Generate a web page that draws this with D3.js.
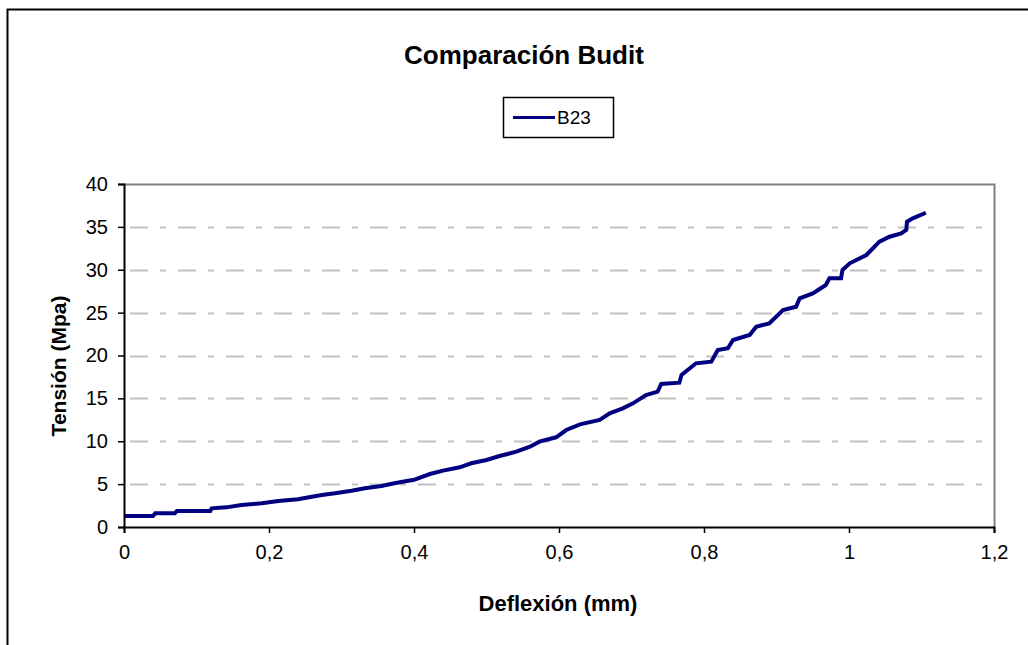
<!DOCTYPE html>
<html>
<head>
<meta charset="utf-8">
<style>
  body { margin: 0; background: #fff; }
  svg text { font-family: "Liberation Sans", Arial, sans-serif; fill: #000; }
</style>
</head>
<body>
<div class="chart"></div>
<script src="https://cdn.jsdelivr.net/npm/d3@7/dist/d3.min.js"></script>
<script type="text/javascript">

// data (deflexion mm, tension MPa)
var seriesName = "B23";
var deflexion = [0.0, 0.040, 0.043, 0.070, 0.073, 0.119, 0.121, 0.141, 0.162, 0.190, 0.213, 0.240,
    0.259, 0.273, 0.291, 0.314, 0.332, 0.355, 0.373, 0.392, 0.399, 0.422, 0.440, 0.463, 0.479,
    0.500, 0.518, 0.541, 0.560, 0.573, 0.596, 0.610, 0.629, 0.656, 0.670, 0.688, 0.702, 0.720,
    0.736, 0.741, 0.766, 0.769, 0.789, 0.810, 0.819, 0.833, 0.840, 0.863, 0.872, 0.890, 0.909,
    0.927, 0.932, 0.950, 0.968, 0.973, 0.989, 0.991, 1.001, 1.024, 1.042, 1.056, 1.072, 1.079,
    1.080, 1.088, 1.106];
var tension = [1.28, 1.28, 1.59, 1.59, 1.87, 1.87, 2.18, 2.29, 2.57, 2.76, 3.03, 3.23,
    3.53, 3.73, 3.93, 4.23, 4.51, 4.78, 5.10, 5.40, 5.48, 6.18, 6.57, 6.96, 7.43,
    7.81, 8.28, 8.78, 9.37, 9.95, 10.46, 11.31, 11.97, 12.48, 13.26, 13.84, 14.42, 15.39,
    15.78, 16.68, 16.83, 17.73, 19.09, 19.28, 20.64, 20.84, 21.81, 22.39, 23.36, 23.75, 25.31,
    25.69, 26.67, 27.25, 28.22, 29.00, 29.00, 29.97, 30.75, 31.72, 33.27, 33.85, 34.25, 34.64,
    35.61, 36.0, 36.65];
var xTicks = [0, 0.2, 0.4, 0.6, 0.8, 1, 1.2];
var yTicks = [0, 5, 10, 15, 20, 25, 30, 35, 40];

var W = 1028, H = 645;
var margin = {top: 184, right: 34, bottom: 118, left: 124},
    width = W - margin.left - margin.right,
    height = H - margin.top - margin.bottom;

var data = deflexion.map(function(d, i) { return {x: d, y: tension[i]}; });

var svg = d3.select(".chart").append("svg")
    .attr("width", W)
    .attr("height", H);

// outer chart frame
svg.append("rect")
    .attr("x", 7.5).attr("y", 9.5)
    .attr("width", W + 10).attr("height", H + 10)
    .attr("fill", "#fff").attr("stroke", "#000").attr("stroke-width", 2);

svg.append("text")
    .attr("x", 524).attr("y", 64)
    .attr("text-anchor", "middle")
    .style("font-size", "26px").style("font-weight", "bold")
    .text("Comparación Budit");

// legend
var lg = svg.append("g").attr("transform", "translate(503,97)");
lg.append("rect").attr("x", 0.5).attr("y", 0.5).attr("width", 110).attr("height", 40)
    .attr("fill", "#fff").attr("stroke", "#000").attr("stroke-width", 1.5);
lg.append("line").attr("x1", 10).attr("x2", 52).attr("y1", 20.5).attr("y2", 20.5)
    .attr("stroke", "#000080").attr("stroke-width", 3);
lg.append("text").attr("x", 54).attr("y", 27).style("font-size", "19px").text(seriesName);

var x = d3.scaleLinear().domain([0, 1.2]).range([0, width]);
var y = d3.scaleLinear().domain([0, 40]).range([height, 0]);

var g = svg.append("g")
    .attr("transform", "translate(" + margin.left + "," + margin.top + ")");

// dashed gridlines
g.selectAll(".grid")
    .data(yTicks.filter(function(d) { return d > 0 && d < 40; }))
    .enter().append("line")
    .attr("x1", 0).attr("x2", width)
    .attr("y1", function(d) { return Math.round(y(d)) + 0.5; })
    .attr("y2", function(d) { return Math.round(y(d)) + 0.5; })
    .attr("stroke", "#c0c0c0").attr("stroke-width", 2)
    .attr("stroke-dasharray", "18,12,6,12")
    .attr("stroke-dashoffset", -6);

// plot area top/right border
g.append("path")
    .attr("d", "M0,0.5H" + (width + 0.5) + "V" + height)
    .attr("fill", "none").attr("stroke", "#808080").attr("stroke-width", 2);

// curve
var line = d3.line()
    .x(function(d) { return x(d.x); })
    .y(function(d) { return y(d.y); });
g.append("path")
    .datum(data)
    .attr("fill", "none")
    .attr("stroke", "#000080")
    .attr("stroke-width", 4)
    .attr("stroke-linejoin", "miter")
    .attr("d", line);

// axes
var fmt = function(d) { return String(d).replace(".", ","); };
var xAxis = g.append("g")
    .attr("transform", "translate(0," + height + ")")
    .call(d3.axisBottom(x).tickValues(xTicks).tickFormat(fmt).tickSizeOuter(0).tickSize(6).tickPadding(12));
var yAxis = g.append("g")
    .call(d3.axisLeft(y).tickValues(yTicks).tickSizeOuter(0).tickSize(6).tickPadding(10));
[xAxis, yAxis].forEach(function(a) {
    a.select(".domain").attr("stroke", "#000").attr("stroke-width", 2);
    a.selectAll(".tick line").attr("stroke", "#000").attr("stroke-width", 1.5);
    a.selectAll("text").style("font-size", "20px").style("font-family", "Liberation Sans, Arial, sans-serif");
});

svg.append("text")
    .attr("x", 558).attr("y", 611)
    .attr("text-anchor", "middle")
    .style("font-size", "22px").style("font-weight", "bold")
    .text("Deflexión (mm)");

svg.append("text")
    .attr("transform", "translate(66,366) rotate(-90)")
    .attr("text-anchor", "middle")
    .style("font-size", "21px").style("font-weight", "bold")
    .text("Tensión (Mpa)");

</script>
</body>
</html>
